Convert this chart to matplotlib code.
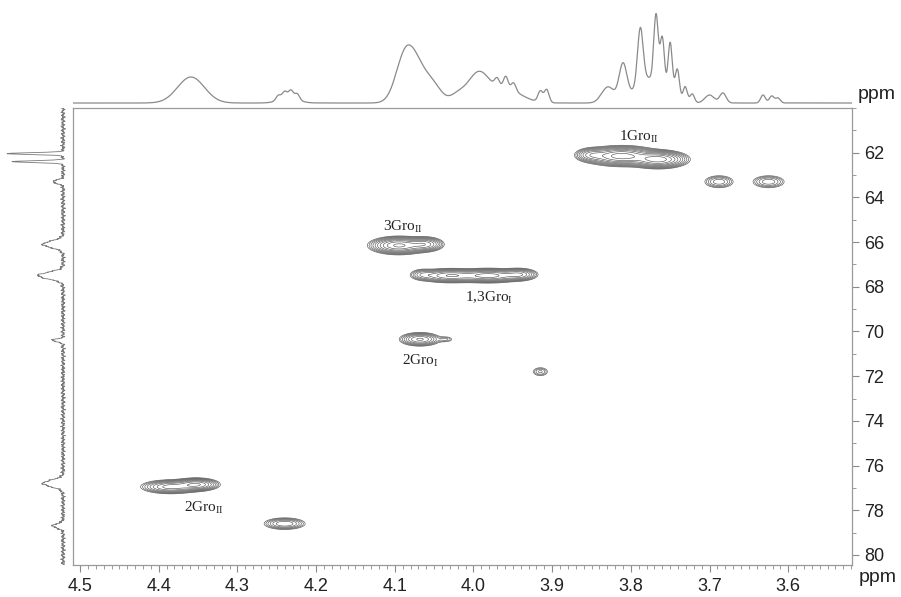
import numpy as np
import matplotlib
matplotlib.use("Agg")
from matplotlib import pyplot as plt
from matplotlib.ticker import MultipleLocator, FixedLocator

plt.rcParams['font.family'] = ['Liberation Sans', 'DejaVu Sans']
plt.rcParams['mathtext.fontset'] = 'custom'
plt.rcParams['mathtext.rm'] = 'Liberation Serif'

# 2D cross peaks: 1H shift, 13C shift, amplitude, 1H width, 13C width
peak_h = [3.812, 3.765, 3.850, 3.688, 3.625,
          4.095, 4.062,
          4.030, 3.980, 3.942, 4.065,
          4.068, 4.035, 3.915,
          4.385, 4.352, 4.240]
peak_c = [62.15, 62.30, 62.10, 63.30, 63.30,
          66.15, 66.10,
          67.50, 67.50, 67.45, 67.45,
          70.35, 70.35, 71.80,
          76.95, 76.85, 78.60]
peak_amp = [1.0, 1.0, 0.3, 0.2, 0.2,
            0.9, 0.5,
            0.6, 0.7, 0.4, 0.15,
            0.45, 0.08, 0.12,
            0.5, 0.6, 0.3]
peak_wh = [0.020, 0.016, 0.010, 0.010, 0.011,
           0.016, 0.011,
           0.019, 0.019, 0.011, 0.008,
           0.012, 0.006, 0.006,
           0.017, 0.013, 0.013]
peak_wc = [0.19, 0.17, 0.15, 0.15, 0.15,
           0.17, 0.15,
           0.14, 0.14, 0.13, 0.13,
           0.14, 0.08, 0.12,
           0.14, 0.13, 0.13]

labels = ['1Gro$_{\\mathrm{II}}$', '3Gro$_{\\mathrm{II}}$', '1,3Gro$_{\\mathrm{I}}$',
          '2Gro$_{\\mathrm{I}}$', '2Gro$_{\\mathrm{II}}$']
label_h = [3.79, 4.09, 3.98, 4.067, 4.343]
label_c = [61.3, 65.3, 68.5, 71.3, 77.9]

# 1H projection (top): position, height, width
top_pos = [4.359, 4.248, 4.240, 4.232, 4.224, 4.235,
           4.086, 4.068, 4.050, 4.020, 3.994,
           3.970, 3.959, 3.949, 3.960, 3.915, 3.907,
           3.829, 3.810, 3.788, 3.768, 3.760, 3.750, 3.741, 3.731, 3.722, 3.778,
           3.700, 3.683, 3.632, 3.621, 3.613]
top_height = [26, 5, 7, 8, 6, 5,
              50, 24, 15, 8, 28,
              8, 12, 8, 14, 11, 13,
              16, 36, 55, 68, 52, 55, 32, 16, 9, 25,
              8, 10, 8, 7, 5]
top_width = [0.017, 0.003, 0.003, 0.003, 0.003, 0.012,
             0.012, 0.011, 0.010, 0.010, 0.013,
             0.003, 0.003, 0.003, 0.020, 0.003, 0.003,
             0.008, 0.005, 0.0035, 0.0028, 0.0028, 0.0028, 0.0028, 0.0028, 0.0028, 0.016,
             0.006, 0.004, 0.003, 0.003, 0.003]

# 13C projection (left): position, height, width
left_pos = [62.04, 62.40, 63.30, 66.10, 67.50, 70.40, 76.80, 78.70]
left_height = [55, 50, 10, 20, 25, 11, 20, 10]
left_width = [0.04, 0.04, 0.08, 0.15, 0.15, 0.06, 0.15, 0.10]

x_lim = (4.509, 3.519)
y_lim = (80.45, 60.0)

fig = plt.figure(figsize=(9.01, 5.97), dpi=100)
ax = fig.add_axes([0.0810, 0.0536, 0.8646, 0.7655])
ax_top = fig.add_axes([0.0810, 0.8241, 0.8646, 0.171])
ax_left = fig.add_axes([0.0, 0.0536, 0.0777, 0.7655])

# contour map
h = np.linspace(x_lim[1], x_lim[0], 900)
c = np.linspace(y_lim[1], y_lim[0], 700)
H, C = np.meshgrid(h, c)
Z = np.zeros_like(H)
for ph, pc, a, wh, wc in zip(peak_h, peak_c, peak_amp, peak_wh, peak_wc):
    Z += a * np.exp(-0.5 * ((H - ph) / wh) ** 2 - 0.5 * ((C - pc) / wc) ** 2)
levels = 0.04 * 1.4 ** np.arange(10)
ax.contour(H, C, Z, levels=levels, colors='#555555', linewidths=0.45)

for t, lh, lc in zip(labels, label_h, label_c):
    ax.text(lh, lc, t, ha='center', va='center', fontsize=11, color='#222222',
            family='Liberation Serif')

ax.set_xlim(*x_lim)
ax.set_ylim(*y_lim)
ax.xaxis.set_minor_locator(MultipleLocator(0.01))
ax.yaxis.set_major_locator(FixedLocator(np.arange(62, 81, 2)))
ax.yaxis.set_minor_locator(MultipleLocator(1))
ax.yaxis.tick_right()
ax.tick_params(which='both', direction='out', color='#8a8a8a', labelsize=13,
               labelcolor='#222222')
ax.tick_params(which='major', length=5, width=0.8)
ax.tick_params(which='minor', length=3, width=0.6)
ax.tick_params(axis='x', pad=4)
ax.set_xticks(np.round(np.arange(4.5, 3.55, -0.1), 1))
ax.set_xticklabels([f'{v:.1f}' for v in np.arange(4.5, 3.55, -0.1)])
for s in ax.spines.values():
    s.set_color('#9a9a9a')
    s.set_linewidth(0.9)

# top 1H trace
ht = np.linspace(x_lim[1], x_lim[0], 3000)
top = np.zeros_like(ht)
for p, a, w in zip(top_pos, top_height, top_width):
    top += a * np.exp(-0.5 * ((ht - p) / w) ** 2)
ax_top.plot(ht, top, color='#8a8a8a', lw=0.9)
ax_top.set_xlim(*x_lim)
ax_top.set_ylim(-2, 100)
ax_top.axis('off')

# left 13C trace with baseline ripple
cl = np.linspace(y_lim[1], y_lim[0], 4000)
left = np.zeros_like(cl)
for p, a, w in zip(left_pos, left_height, left_width):
    left += a * np.exp(-0.5 * ((cl - p) / w) ** 2)
left += (0.9 * np.sin(cl * 37.0) + 0.7 * np.sin(cl * 71.0 + 1.0)
         + 0.6 * np.sin(cl * 131.0 + 2.0) + 0.5 * np.sin(cl * 223.0 + 0.5))
ax_left.plot(left, cl, color='#7a7a7a', lw=0.6)
ax_left.set_xlim(63, -7)
ax_left.set_ylim(*y_lim)
ax_left.axis('off')

fig.text(0.952, 0.828, 'ppm', fontsize=14, color='#222222', ha='left', va='bottom')
fig.text(0.953, 0.018, 'ppm', fontsize=14, color='#222222', ha='left', va='bottom')

fig.savefig('out.png', dpi=100)
